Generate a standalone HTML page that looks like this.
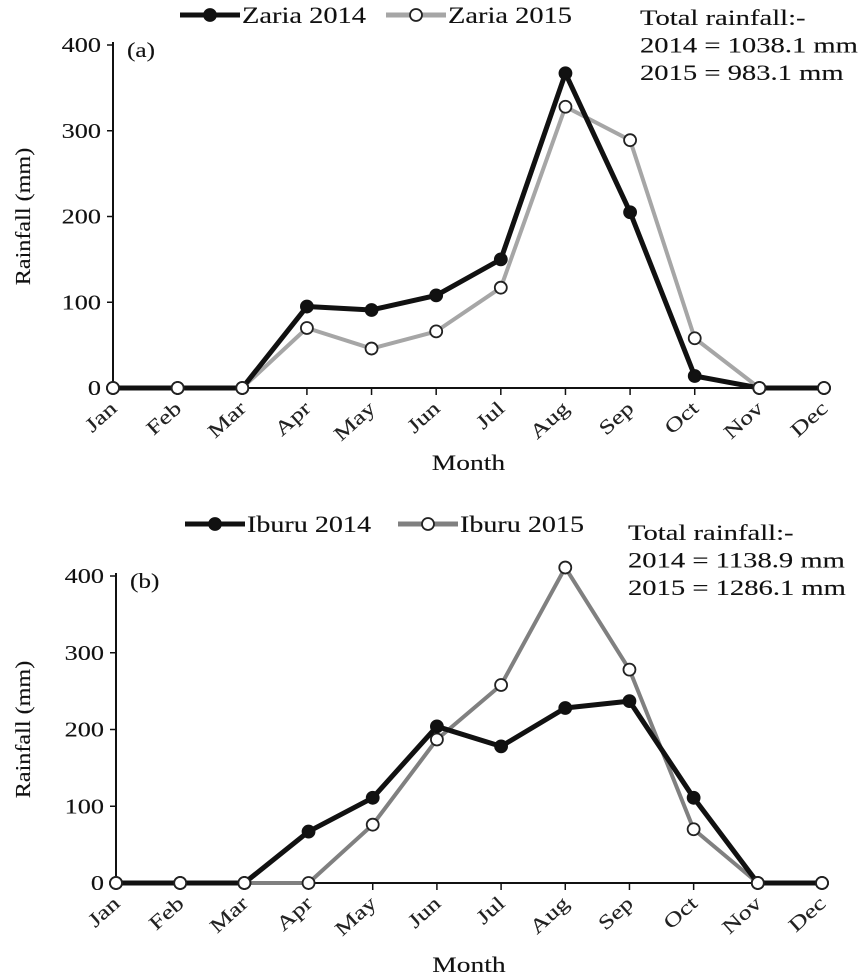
<!DOCTYPE html>
<html><head><meta charset="utf-8"><style>
body{margin:0;background:#fff}
svg{display:block;font-family:"Liberation Serif",serif}
text{stroke:#111;stroke-width:0.12px}
</style></head><body>
<svg id="chart" width="866" height="980"></svg>
<script>
const months=["Jan","Feb","Mar","Apr","May","Jun","Jul","Aug","Sep","Oct","Nov","Dec"];
const yTicks=[0,100,200,300,400];
const zaria2014=[0,0,0,95,91,108,150,367,205,14,0,0];
const zaria2015=[0,0,0,70,46,66,117,328,289,58,0,0];
const iburu2014=[0,0,0,67,111,204,178,228,237,111,0,0];
const iburu2015=[0,0,0,0,76,187,258,411,278,70,0,0];
const NS="http://www.w3.org/2000/svg";
const svg=document.getElementById('chart');
function mk(tag,attrs,parent,text){const e=document.createElementNS(NS,tag);for(const k in attrs)e.setAttribute(k,attrs[k]);if(text!==undefined)e.textContent=text;(parent||svg).appendChild(e);return e;}
// stretch text horizontally; anchor: 'start' | 'end' | 'middle' relative to given x
function stretch(el,f,anchor,x){const w=el.getComputedTextLength()*f;el.setAttribute('textLength',w);el.setAttribute('lengthAdjust','spacingAndGlyphs');el.setAttribute('text-anchor','start');
  if(anchor==='end')el.setAttribute('x',x-w);else if(anchor==='middle')el.setAttribute('x',x-w/2);else el.setAttribute('x',x);}
function panel(cfg){
  const g=mk('g',{});
  
  
  const x=i=>cfg.x0+i*(cfg.x1-cfg.x0)/11;
  const y=v=>cfg.y0-v*(cfg.y0-cfg.y400)/400;
  const ya=mk('line',{x1:cfg.x0,y1:cfg.y400-3,x2:cfg.x0,y2:cfg.y0,stroke:'#111','stroke-width':2},g);
  
  const xa=mk('line',{x1:cfg.x0,y1:cfg.y0,x2:cfg.x1,y2:cfg.y0,stroke:'#111','stroke-width':2},g);
  
  yTicks.forEach(t=>{
    mk('line',{x1:cfg.x0-6,y1:y(t),x2:cfg.x0,y2:y(t),stroke:'#111','stroke-width':1.5},g);
    const tl=mk('text',{x:0,y:y(t)+7,'font-size':21,fill:'#111'},g,t);
    
    stretch(tl,1.25,'end',cfg.x0-12);
  });
  months.forEach((m,i)=>{
    mk('line',{x1:x(i),y1:cfg.y0,x2:x(i),y2:cfg.y0+7,stroke:'#111','stroke-width':1.5},g);
    const ex=x(i)+5, ey=cfg.y0+22;
    const tg=mk('g',{transform:`translate(${ex} ${ey}) rotate(-42)`},g);
    const tl=mk('text',{x:0,y:0,'font-size':20,fill:'#222'},tg,m);
    
    stretch(tl,1.3,'end',0);
  });
  const xt=mk('text',{x:0,y:cfg.ty,'font-size':22,fill:'#111'},g,'Month');
  
  stretch(xt,1.25,'middle',(cfg.x0+cfg.x1)/2);
  const cy=(cfg.y0+cfg.y400)/2;
  const yg=mk('g',{transform:`translate(30 ${cy}) rotate(-90)`},g);
  const yt=mk('text',{x:0,y:0,'font-size':21,fill:'#111'},yg,'Rainfall (mm)');
  
  stretch(yt,1.15,'middle',0);
  const pl=mk('text',{x:0,y:cfg.y400+12,'font-size':21,fill:'#111'},g,cfg.label);
  
  stretch(pl,1.2,'start',cfg.x0+14);
  [cfg.s2,cfg.s1].forEach(s=>{
    const pts=s.data.map((v,i)=>x(i)+','+y(v)).join(' ');
    const ln=mk('polyline',{points:pts,fill:'none',stroke:s.color,'stroke-width':s.filled?5:4,'stroke-linejoin':'round'},g);
    
    s.data.forEach((v,i)=>{
      const c=mk('circle',{cx:x(i),cy:y(v),r:6,fill:s.filled?'#111':'#fff',stroke:s.filled?'#111':'#222','stroke-width':1.8},g);
      
    });
  });
  cfg.s2.data.forEach((v,i)=>{ if(v===0&&cfg.s1.data[i]===0){
    const c=mk('circle',{cx:x(i),cy:y(v),r:6,fill:'#fff',stroke:'#222','stroke-width':1.8},g);
    }});
  const lg=mk('g',{},g);
  [[cfg.s1,cfg.lx1],[cfg.s2,cfg.lx2]].forEach(([s,lx])=>{
    const e=mk('g',{},lg);
    mk('line',{x1:lx,y1:cfg.ly,x2:lx+60,y2:cfg.ly,stroke:s.color,'stroke-width':5},e);
    mk('circle',{cx:lx+30,cy:cfg.ly,r:6,fill:s.filled?'#111':'#fff',stroke:s.filled?'#111':'#222','stroke-width':1.8},e);
    const t=mk('text',{x:lx+62,y:cfg.ly+8,'font-size':23,fill:'#111'},e,s.label);
    t.setAttribute('textLength',124);t.setAttribute('lengthAdjust','spacingAndGlyphs');
  });
  const tg=mk('g',{},g);
  cfg.note.forEach((t,i)=>{const e=mk('text',{x:0,y:cfg.ny+i*27.5,'font-size':22,fill:'#111'},tg,t);stretch(e,1.3,'start',cfg.nx);});
}
panel({name:'zaria-chart',label:'(a)',x0:113,x1:824,y0:388,y400:45,lx1:180,lx2:386,ly:15,ny:25,nx:640,ty:470,
  s1:{name:'zaria-2014',label:'Zaria 2014',data:zaria2014,color:'#111',filled:true},
  s2:{name:'zaria-2015',label:'Zaria 2015',data:zaria2015,color:'#a6a6a6',filled:false},
  note:['Total rainfall:-','2014 = 1038.1 mm','2015 = 983.1 mm']});
panel({name:'iburu-chart',label:'(b)',x0:116,x1:822,y0:883,y400:576,lx1:185,lx2:398,ly:524,ny:540,nx:628,ty:972,
  s1:{name:'iburu-2014',label:'Iburu 2014',data:iburu2014,color:'#111',filled:true},
  s2:{name:'iburu-2015',label:'Iburu 2015',data:iburu2015,color:'#808080',filled:false},
  note:['Total rainfall:-','2014 = 1138.9 mm','2015 = 1286.1 mm']});
</script>
</body></html>
